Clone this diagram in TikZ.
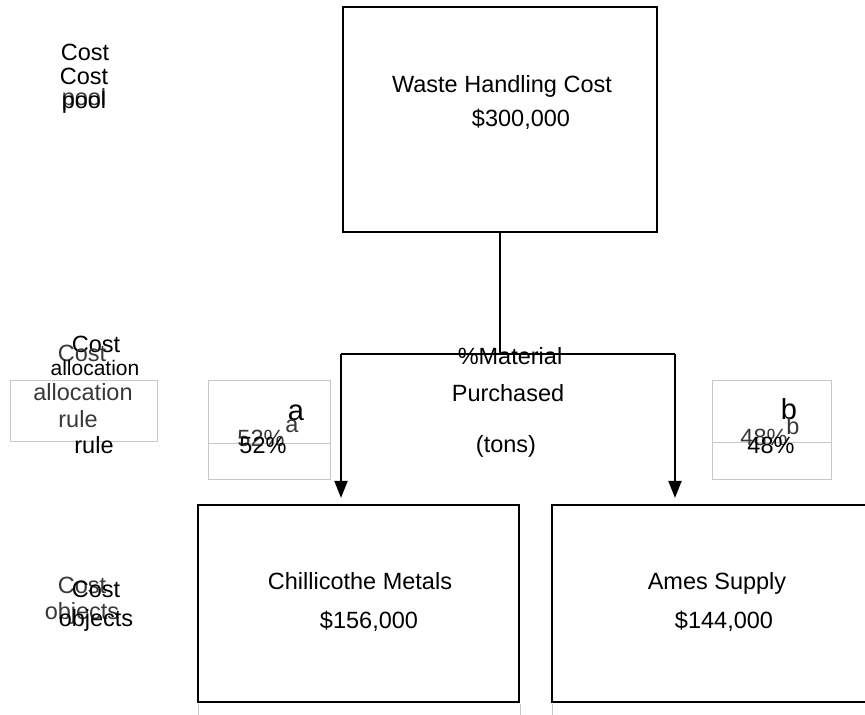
\documentclass[tikz,border=0pt]{standalone}
\usepackage{fontspec}
\setmainfont{Liberation Sans}
\usetikzlibrary{arrows.meta}
\begin{document}
\begin{tikzpicture}[x=1pt,y=-1pt,
  txt/.style={inner sep=0pt, anchor=base, font=\fontsize{23.5}{28}\selectfont},
  ghost/.style={txt, text=black!78},
  big/.style={txt, font=\fontsize{29}{34}\selectfont},
  box/.style={draw, line width=2.2pt, inner sep=0pt},
  guide/.style={draw=black!22, line width=0.8pt},
  link/.style={line width=2pt},
  arr/.style={link, -{Triangle[length=17pt,width=13pt]}, shorten >=6pt}
]
\useasboundingbox (0,0) rectangle (865,715);
\clip (0,0) rectangle (865,715);

% light guide frames behind the labels
\draw[guide] (10,380) rectangle (157,441);
\draw[guide] (208,380) rectangle (330,479);
\draw[guide] (208,443) -- (330,443);
\draw[guide] (712,380) rectangle (831,479);
\draw[guide] (712,442) -- (831,442);
\draw[guide] (198,704) -- (198,715);
\draw[guide] (520,704) -- (520,715);
\draw[guide] (552,704) -- (552,715);

% boxes
\node[box, minimum width=314pt, minimum height=225pt] (pool) at (500,119.5) {};
\node[box, minimum width=321pt, minimum height=197pt] (objA) at (358.5,603.5) {};
\node[box, minimum width=321pt, minimum height=197pt] (objB) at (712.5,603.5) {};

% box texts
\node[txt] (poolname) at (502,92) {Waste Handling Cost};
\node[txt] (poolamt) at (521,126) {\$300,000};
\node[txt] (aname) at (360,589) {Chillicothe Metals};
\node[txt] (aamt) at (369,628) {\$156,000};
\node[txt] (bname) at (717,589) {Ames Supply};
\node[txt] (bamt) at (724,628) {\$144,000};

% allocation connectors
\coordinate (split) at (pool.south |- 0,354);
\coordinate (lsplit) at (341,354);
\coordinate (rsplit) at (675,354);
\draw[link] (pool.south) -- (split);
\draw[link] (lsplit) -- (rsplit);
\draw[arr] (lsplit) -- (lsplit |- objA.north);
\draw[arr] (rsplit) -- (rsplit |- objB.north);

% allocation base
\node[txt] (base1) at (510,364) {\%Material};
\node[txt] (base2) at (508,401) {Purchased};
\node[txt] (base3) at (506,452) {(tons)};

% shares
\node[big] (sa) at (296,420) {a};
\node[ghost] (sag) at (292,432) {a};
\node[ghost] (pag) at (261,446) {52\%};
\node[txt] (pa) at (263,453) {52\%};
\node[big] (sb) at (789,419) {b};
\node[ghost] (sbg) at (793,434) {b};
\node[ghost] (pbg) at (764,445) {48\%};
\node[txt] (pb) at (771,453) {48\%};

% row labels
\node[txt] (l1a) at (85,60) {Cost};
\node[txt] (l1b) at (84,84) {Cost};
\node[ghost] (l1c) at (84,105) {pool};
\node[txt] (l1d) at (84,108) {pool};

\node[txt] (l2a) at (96,352) {Cost};
\node[ghost] (l2b) at (82,361) {Cost};
\node[txt, font=\fontsize{21}{25}\selectfont] (l2c) at (95,375) {allocation};
\node[ghost] (l2d) at (83,400) {allocation};
\node[ghost] (l2e) at (78,427) {rule};
\node[txt] (l2f) at (94,453) {rule};

\node[ghost] (l3a) at (82,593) {Cost};
\node[txt] (l3b) at (96,597) {Cost};
\node[ghost] (l3c) at (82,619) {objects};
\node[txt] (l3d) at (96,626) {objects};
\end{tikzpicture}
\end{document}
